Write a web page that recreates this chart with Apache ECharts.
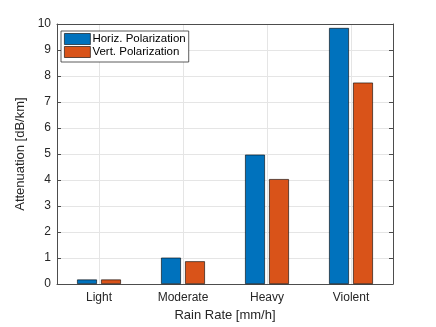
<!DOCTYPE html>
<html><head><meta charset="utf-8">
<script src="https://cdn.jsdelivr.net/npm/echarts@6/dist/echarts.min.js"></script>
<style>html,body{margin:0;padding:0;background:#fff}#c{width:436px;height:327px}</style>
</head><body><div id="c"></div>
<script>
const categories = ['Light', 'Moderate', 'Heavy', 'Violent'];
const horizValues = [0.18, 1.02, 4.98, 9.85];
const vertValues = [0.18, 0.88, 4.04, 7.75];
const yTicks = [0, 1, 2, 3, 4, 5, 6, 7, 8, 9, 10];
const seriesNames = ['Horiz. Polarization', 'Vert. Polarization'];

const FONT = 'Liberation Sans, Arial, Helvetica, sans-serif';
const TXT = '#262626';
const AX = '#4d4d4d';
const helperData = Array.from({length: 2 * categories.length + 1}, (_, i) => 'h' + i);

const chart = echarts.init(document.getElementById('c'), null, {renderer: 'canvas'});
chart.setOption({
  animation: false,
  textStyle: {fontFamily: FONT},
  grid: {left: 57, right: 43, top: 24, bottom: 36},
  legend: {
    data: seriesNames,
    left: 61, top: 31, orient: 'vertical',
    itemWidth: 26, itemHeight: 11, itemGap: 1,
    padding: [2, 3, 4, 3],
    borderColor: '#333', borderWidth: 0.8,
    backgroundColor: '#fff',
    icon: 'rect',
    itemStyle: {borderColor: 'rgba(0,0,0,0.75)', borderWidth: 0.8},
    textStyle: {fontSize: 11.5, color: '#000', fontFamily: FONT, padding: [0, 0, 0, -3]},
    z: 10
  },
  xAxis: [
    {
      type: 'category', data: categories, position: 'bottom',
      name: 'Rain Rate [mm/h]', nameLocation: 'middle', nameGap: 22,
      nameTextStyle: {fontSize: 13, color: TXT},
      axisLine: {lineStyle: {color: AX, width: 1}},
      axisTick: {inside: true, alignWithLabel: true, length: 4, lineStyle: {color: AX}},
      axisLabel: {fontSize: 12, color: TXT, margin: 8},
      splitLine: {show: false}
    },
    {
      type: 'category', data: helperData, position: 'bottom', boundaryGap: false,
      axisLine: {show: false}, axisTick: {show: false}, axisLabel: {show: false},
      splitLine: {show: true, interval: (i) => i % 2 === 1, lineStyle: {color: '#e5e5e5', width: 1}}
    },
    {
      type: 'category', data: categories, position: 'top',
      axisLine: {lineStyle: {color: AX, width: 1}},
      axisTick: {inside: true, alignWithLabel: true, length: 4, lineStyle: {color: AX}},
      axisLabel: {show: false}, splitLine: {show: false}
    }
  ],
  yAxis: [
    {
      type: 'value', min: yTicks[0], max: yTicks[yTicks.length - 1], interval: 1,
      name: 'Attenuation [dB/km]', nameLocation: 'middle', nameGap: 28,
      nameTextStyle: {fontSize: 13, color: TXT},
      axisLine: {show: true, lineStyle: {color: AX, width: 1}},
      axisTick: {show: true, inside: true, length: 4, lineStyle: {color: AX}},
      axisLabel: {fontSize: 12, color: TXT, margin: 6},
      splitLine: {show: true, lineStyle: {color: '#e5e5e5', width: 1}}
    },
    {
      type: 'value', min: yTicks[0], max: yTicks[yTicks.length - 1], interval: 1, position: 'right',
      axisLine: {show: true, lineStyle: {color: AX, width: 1}},
      axisTick: {show: true, inside: true, length: 4, lineStyle: {color: AX}},
      axisLabel: {show: false}, splitLine: {show: false}
    }
  ],
  series: [
    {
      name: seriesNames[0], type: 'bar', data: horizValues, xAxisIndex: 0, yAxisIndex: 0,
      barWidth: 20, barGap: '20%',
      itemStyle: {color: '#0072BD', borderColor: 'rgba(0,0,0,0.75)', borderWidth: 0.8},
      z: 3
    },
    {
      name: seriesNames[1], type: 'bar', data: vertValues, xAxisIndex: 0, yAxisIndex: 0,
      barWidth: 20, barGap: '20%',
      itemStyle: {color: '#D95319', borderColor: 'rgba(0,0,0,0.75)', borderWidth: 0.8},
      z: 3
    }
  ]
});
</script></body></html>
